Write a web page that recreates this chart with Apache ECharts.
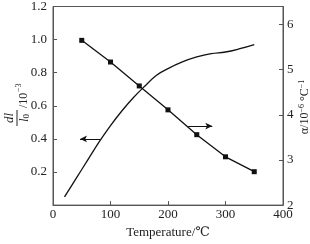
<!DOCTYPE html>
<html>
<head>
<meta charset="utf-8">
<script src="https://cdn.jsdelivr.net/npm/echarts@6/dist/echarts.min.js"></script>
<style>
html,body{margin:0;padding:0;background:#fff;}
#chart{width:310px;height:244px;}
</style>
</head>
<body>
<div id="chart"></div>
<script>
// Expansion curve dl/l0 (10^-3), left axis
const curveTemp = [20, 40, 60, 80, 100, 120, 140, 160, 180, 200, 225, 250, 275, 300, 325, 350];
const curveExp  = [0.05, 0.16, 0.27, 0.38, 0.48, 0.57, 0.65, 0.72, 0.785, 0.825, 0.865, 0.895, 0.915, 0.925, 0.945, 0.97];
// Expansion coefficient alpha (10^-6 /°C), right axis
const pointTemp = [50, 100, 150, 200, 250, 300, 350];
const alphaVals = [5.65, 5.17, 4.64, 4.11, 3.56, 3.07, 2.74];
// Axis ticks
const xTicks = [0, 100, 200, 300, 400];
const leftTicks = [0, 0.2, 0.4, 0.6, 0.8, 1.0, 1.2];
const rightTicks = [2, 3, 4, 5, 6];
// Arrow annotations [from, to]
const leftArrow = [[82, 0.4], [47, 0.4]];
const rightArrow = [[235, 3.75], [277, 3.75]];

const serif = '"Liberation Serif", "DejaVu Serif", serif';
const txt = '#222';
const axisCol = '#555';

const chart = echarts.init(document.getElementById('chart'), null, {renderer: 'canvas'});
chart.setOption({
  animation: false,
  backgroundColor: '#fff',
  grid: {left: 53, right: 27, top: 3, bottom: 30, show: true, borderColor: axisCol, borderWidth: 1, backgroundColor: 'transparent'},
  xAxis: {
    type: 'value', min: xTicks[0], max: xTicks[xTicks.length - 1], interval: 100,
    name: 'Temperature/℃', nameLocation: 'middle', nameGap: 16,
    nameTextStyle: {fontFamily: serif, fontSize: 13, color: txt},
    axisLine: {lineStyle: {color: axisCol, width: 1}},
    axisTick: {inside: true, length: 4, lineStyle: {color: axisCol}},
    axisLabel: {fontFamily: serif, fontSize: 13, color: txt, margin: 3},
    splitLine: {show: false}
  },
  yAxis: [
    {
      type: 'value', min: leftTicks[0], max: leftTicks[leftTicks.length - 1], interval: 0.2,
      position: 'left',
      axisLine: {show: true, lineStyle: {color: axisCol, width: 1}},
      axisTick: {show: true, inside: true, length: 4, lineStyle: {color: axisCol}},
      axisLabel: {fontFamily: serif, fontSize: 13, color: txt, margin: 6, showMinLabel: false,
        formatter: v => v.toFixed(1)},
      splitLine: {show: false}
    },
    {
      type: 'value', min: rightTicks[0], max: 6.4, interval: 1,
      position: 'right',
      axisLine: {show: true, lineStyle: {color: axisCol, width: 1}},
      axisTick: {show: true, inside: true, length: 4, lineStyle: {color: axisCol}},
      axisLabel: {fontFamily: serif, fontSize: 13, color: txt, margin: 4,
        formatter: v => (Math.abs(v - Math.round(v)) < 1e-6 && rightTicks.includes(Math.round(v))) ? String(Math.round(v)) : ''},
      splitLine: {show: false}
    }
  ],
  series: [
    {
      type: 'line', yAxisIndex: 0, smooth: 0.4, showSymbol: false, symbol: 'none',
      data: curveTemp.map((t, i) => [t, curveExp[i]]),
      lineStyle: {color: '#111', width: 1.3},
      markLine: {
        silent: true, animation: false,
        symbol: ['none', 'arrow'], symbolSize: [5, 7],
        lineStyle: {color: '#111', width: 1, type: 'solid'},
        label: {show: false},
        data: [[{coord: leftArrow[0]}, {coord: leftArrow[1]}]]
      }
    },
    {
      type: 'line', yAxisIndex: 1, symbol: 'rect', symbolSize: 5,
      data: pointTemp.map((t, i) => [t, alphaVals[i]]),
      lineStyle: {color: '#111', width: 1.3},
      itemStyle: {color: '#111'},
      markLine: {
        silent: true, animation: false,
        symbol: ['none', 'arrow'], symbolSize: [5, 7],
        lineStyle: {color: '#111', width: 1, type: 'solid'},
        label: {show: false},
        data: [[{coord: rightArrow[0]}, {coord: rightArrow[1]}]]
      }
    }
  ],
  graphic: [
    {
      type: 'group', x: 17, y: 108, rotation: Math.PI / 2, silent: true,
      children: [
        {type: 'text', x: -10, y: -1, style: {text: 'dl', fontFamily: serif, fontSize: 13, fontStyle: 'italic', fill: txt, align: 'center', verticalAlign: 'bottom'}},
        {type: 'line', shape: {x1: -18, y1: 0, x2: -2, y2: 0}, style: {stroke: txt, lineWidth: 1}},
        {type: 'text', x: -10, y: 1, style: {text: '{i|l}{s|0}', fontFamily: serif, fontSize: 13, fill: txt, align: 'center', verticalAlign: 'top',
          rich: {i: {fontFamily: serif, fontSize: 13, fontStyle: 'italic', fill: txt}, s: {fontFamily: serif, fontSize: 9, fill: txt, verticalAlign: 'bottom'}}}},
        {type: 'text', x: 0, y: 6.5, style: {text: '/10', fontFamily: serif, fontSize: 12, fill: txt, align: 'left', verticalAlign: 'middle'}},
        {type: 'text', x: 16, y: 2, style: {text: '−3', fontFamily: serif, fontSize: 8, fill: txt, align: 'left', verticalAlign: 'middle'}}
      ]
    },
    {
      type: 'text', x: 305, y: 107, rotation: Math.PI / 2, silent: true,
      style: {
        text: '{m|α/10}{s|−6}{m| °C}{s|−1}',
        align: 'center', verticalAlign: 'middle', fill: txt,
        rich: {
          m: {fontFamily: serif, fontSize: 12, fill: txt, lineHeight: 14},
          s: {fontFamily: serif, fontSize: 8, fill: txt, verticalAlign: 'top'}
        }
      }
    }
  ]
});
</script>
</body>
</html>
